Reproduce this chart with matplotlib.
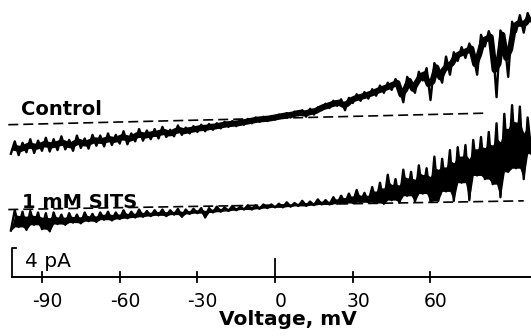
import numpy as np
import matplotlib.pyplot as plt

# voltage ramp samples, mV
volt = np.arange(-102, 99.1, 1.5)

# current, pA (offsets as drawn)
control = [17.0, 18.7, 16.8, 18.5, 17.2, 19.0, 17.1, 18.8, 17.4, 19.2,
           17.3, 19.0, 17.5, 19.4, 17.6, 18.9, 17.4, 19.5, 17.8, 19.1,
           17.7, 19.6, 18.1, 19.5, 18.0, 19.8, 18.2, 19.6, 18.4, 20.1,
           18.3, 19.8, 18.7, 20.4, 18.8, 20.2, 19.0, 20.4, 19.1, 20.7,
           19.3, 20.3, 19.4, 20.9, 19.6, 20.6, 19.8, 20.8, 20.0, 21.0,
           20.1, 21.1, 20.3, 21.2, 20.5, 21.4, 20.7, 21.5, 20.8, 21.6,
           21.0, 21.8, 21.2, 22.0, 21.4, 22.1, 21.5, 22.2, 21.7, 22.4,
           21.9, 22.6, 22.0, 22.8, 22.3, 23.0, 22.1, 23.2, 22.4, 23.4,
           23.0, 23.9, 23.3, 24.3, 23.6, 24.5, 23.0, 24.7, 24.0, 25.2,
           24.3, 25.5, 24.6, 25.9, 25.0, 26.4, 25.4, 26.8, 25.8, 27.3,
           26.2, 24.1, 27.6, 26.5, 25.4, 28.3, 27.1, 28.8, 24.4, 29.5,
           28.3, 26.8, 30.4, 27.9, 31.0, 29.8, 31.7, 30.2, 32.2, 30.8,
           27.9, 33.4, 31.8, 33.9, 32.3, 24.8, 34.0, 32.8, 27.6, 35.2,
           33.8, 36.1, 33.7, 36.4, 35.2]

sits = [6.4, 9.2, 6.9, 9.0, 6.5, 9.1, 7.2, 8.9, 6.6, 8.8,
        6.3, 8.9, 7.3, 8.6, 7.2, 8.8, 7.5, 8.6, 7.4, 8.9,
        7.7, 8.7, 7.6, 8.9, 7.9, 9.0, 7.8, 8.9, 8.0, 9.2,
        8.1, 9.0, 8.2, 9.3, 8.3, 9.1, 8.4, 9.2, 8.5, 9.3,
        8.4, 9.2, 8.6, 9.4, 8.3, 9.3, 8.7, 9.4, 8.8, 9.5,
        8.2, 9.5, 8.9, 9.7, 9.0, 9.6, 9.1, 9.8, 9.2, 9.7,
        9.3, 9.9, 9.3, 9.9, 9.4, 10.0, 9.5, 10.0, 9.6, 10.1,
        9.6, 10.3, 9.7, 10.2, 9.8, 10.5, 9.8, 10.4, 9.9, 10.7,
        10.0, 10.6, 10.0, 11.0, 10.1, 11.2, 10.2, 11.5, 10.2, 12.0,
        10.3, 11.6, 10.3, 12.4, 10.2, 13.0, 10.1, 14.1, 10.6, 13.5,
        10.3, 14.8, 11.2, 14.5, 10.4, 15.4, 11.5, 15.0, 10.4, 16.6,
        10.5, 16.3, 11.8, 17.5, 10.5, 17.9, 13.0, 18.2, 10.6, 18.9,
        14.0, 19.3, 13.5, 20.0, 12.8, 21.2, 11.0, 22.5, 14.5, 23.7,
        15.0, 23.5, 13.5, 22.0, 17.0]

# leak (baseline) lines
control_dash_v = [-103, 82]
control_dash_i = [21.0, 22.6]
sits_dash_v = [-103, 96]
sits_dash_i = [9.3, 10.5]

tick_vals = [-90, -60, -30, 0, 30, 60]
tick_labels = ['-90', '-60', '-30', '0', '30', '60']


def draw_trace(ax, v, cur, core_lw):
    # zigzag of the samples plus a heavy core along the pairwise mean
    cur = np.asarray(cur)
    core = (cur[:-1] + cur[1:]) / 2
    vmid = (v[:-1] + v[1:]) / 2
    ax.plot(vmid, core, color='black', lw=core_lw, zorder=2, solid_capstyle='butt')
    ax.plot(v, cur, color='black', lw=1.7, zorder=3)


def draw_band(ax, v, cur, frac=0.75):
    # dense flicker: solid lower part of the band, open spikes on top
    cur = np.asarray(cur)
    pad = np.pad(cur, 1, mode='edge')
    hi = np.maximum(pad[1:-1], np.minimum(pad[:-2], pad[2:]))
    lo = np.minimum(pad[1:-1], np.maximum(pad[:-2], pad[2:]))
    ax.fill_between(v, lo, lo + frac * (hi - lo), color='black', lw=0, zorder=2)
    ax.plot(v, cur, color='black', lw=1.7, zorder=3)


fig = plt.figure(figsize=(5.31, 3.36), dpi=100)
ax = fig.add_axes([0, 0, 1, 1])
ax.set_xlim(-106.2, 98.8)
ax.set_ylim(-8.14, 38.2)
ax.axis('off')

ax.plot(control_dash_v, control_dash_i, color='black', lw=1.2, dashes=(6, 3), zorder=1)
ax.plot(sits_dash_v, sits_dash_i, color='black', lw=1.2, dashes=(6, 3), zorder=1)
draw_trace(ax, volt, control, 4.4)
draw_band(ax, volt, sits)

# voltage axis and 4 pA scale bracket
ax.plot([-101.5, 99], [0, 0], color='black', lw=1.4)
ax.plot([-100, -101.5, -101.5], [4, 4, 0], color='black', lw=1.3)
for v, lab in zip(tick_vals, tick_labels):
    top = 2.5 if v == 0 else 0.7
    ax.plot([v, v], [-0.7, top], color='black', lw=1.3)
    ax.text(v + 2, -4.14, lab, ha='center', va='baseline', fontsize=13.5)

ax.text(-96.5, 1.4, '4 pA', ha='left', va='baseline', fontsize=14.5)
ax.text(-98, 22.3, 'Control', ha='left', va='baseline', fontsize=14, fontweight='bold')
ax.text(-97.7, 9.5, '1 mM SITS', ha='left', va='baseline', fontsize=14, fontweight='bold')
ax.text(5, -6.6, 'Voltage, mV', ha='center', va='baseline', fontsize=14.5, fontweight='bold')

fig.savefig('out.png', dpi=100)
